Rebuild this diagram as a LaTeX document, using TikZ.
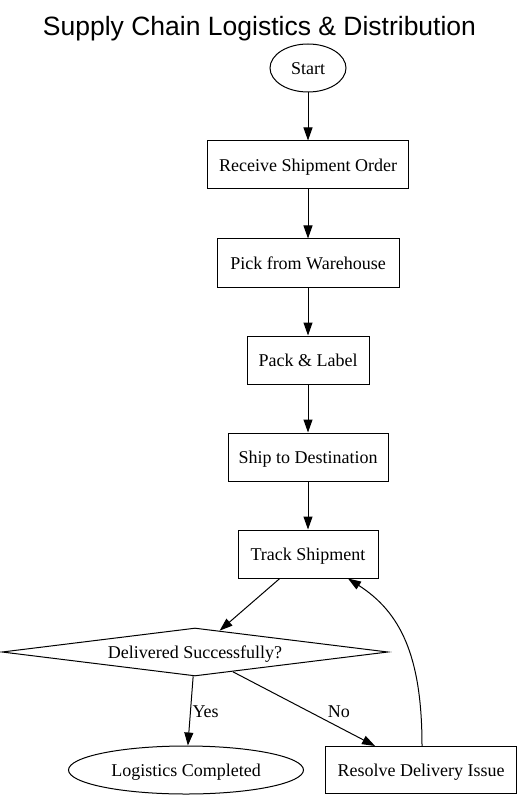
\documentclass[tikz,border=0pt]{standalone}
\usepackage{fontspec}
\setmainfont{Liberation Serif}
\newfontfamily\titlefont{Liberation Sans}
\usetikzlibrary{arrows.meta,shapes.geometric,calc}
\tikzset{
  every node/.style={font=\fontsize{18}{21}\selectfont, inner sep=0pt, text height=15pt, text depth=2pt},
  procbox/.style={draw, line width=1pt, rectangle, minimum height=48pt},
  oval/.style={draw, line width=1pt, ellipse, minimum height=48pt},
  decision/.style={draw, line width=1pt, diamond, aspect=8, minimum width=386pt, minimum height=48pt},
  flow/.style={line width=1pt, -{Triangle[length=13pt,width=9pt]}},
  edgelabel/.style={font=\fontsize{18}{21}\selectfont}
}
\begin{document}
\begin{tikzpicture}[x=1pt,y=-1pt]
\useasboundingbox (0,0) rectangle (521,799);
\node[font=\titlefont\fontsize{26.5}{30}\selectfont, anchor=base, text height=, text depth=] (title) at (259.5,36) {Supply Chain Logistics \& Distribution};
\node[oval, minimum width=76pt] (start) at (308,68) {Start};
\node[procbox, minimum width=201pt] (recv) at (308,165) {Receive Shipment Order};
\node[procbox, minimum width=182pt] (pick) at (308,263) {Pick from Warehouse};
\node[procbox, minimum width=122pt] (pack) at (308,360) {Pack \& Label};
\node[procbox, minimum width=160pt] (ship) at (308,457) {Ship to Destination};
\node[procbox, minimum width=140pt] (track) at (308,554) {Track Shipment};
\node[decision] (dec) at (195,652) {Delivered Successfully?};
\node[oval, minimum width=235pt] (done) at (186,770) {Logistics Completed};
\node[procbox, minimum width=191pt, minimum height=47pt] (resolve) at (421,770) {Resolve Delivery Issue};
\draw[flow] (start) -- (recv);
\draw[flow] (recv) -- (pick);
\draw[flow] (pick) -- (pack);
\draw[flow] (pack) -- (ship);
\draw[flow] (ship) -- (track);
\draw[flow] (track) -- (dec);
\draw[flow] (dec) -- node[edgelabel, pos=0.5, anchor=west, xshift=1.5pt, yshift=0pt] {Yes} (done);
\draw[flow] (dec) -- node[edgelabel, pos=0.5, anchor=center, xshift=35pt, yshift=-2pt] {No} (resolve);
\draw[flow] ($(resolve.north)+(1,0)$) .. controls (422,655) and (400,612) .. ($(track.south)+(40,0)$);
\end{tikzpicture}
\end{document}
